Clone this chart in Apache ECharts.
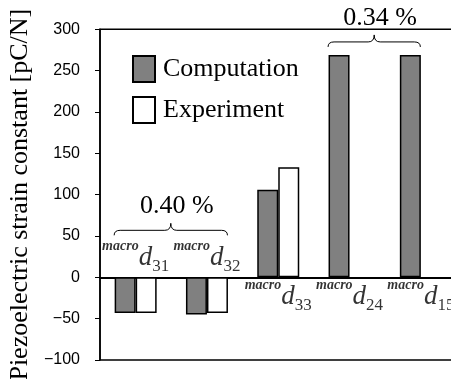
<!DOCTYPE html>
<html><head><meta charset="utf-8">
<script src="https://cdn.jsdelivr.net/npm/echarts@6/dist/echarts.min.js"></script>
<style>html,body{margin:0;padding:0;background:#fff}#c{width:451px;height:379px}</style>
</head><body><div id="c"></div>
<script>
// ---- data ----
const categories = ['macro d31', 'macro d32', 'macro d33', 'macro d24', 'macro d15'];
const subscripts = ['31', '32', '33', '24', '15'];
const computation = [-43, -45, 106, 269, 269];
const experiment = [-43, -43, 133, null, null];
const seriesNames = ['Computation', 'Experiment'];
const yTickLabels = ['-100', '-50', '0', '50', '100', '150', '200', '250', '300'];
const groupLabels = ['0.40 %', '0.34 %'];
const groupRanges = [[0, 1], [3, 4]];
const yName = 'Piezoelectric strain constant [pC/N]';

// ---- chart ----
const serif = "'Times New Roman','Liberation Serif',serif";
const sans = "Arial,'Liberation Sans',sans-serif";
const chart = echarts.init(document.getElementById('c'), null, {renderer: 'canvas'});
const BW = 21;

const labelData = categories.map((c, i) => ({
  value: [i, 0],
  label: computation[i] < 0 ? {position: 'top', distance: 2} : {position: 'bottom', distance: 1}
}));

chart.setOption({
  animation: false,
  backgroundColor: '#fff',
  grid: {left: 100, right: -5.5, top: 29.3, bottom: 19, show: true, borderColor: '#000', borderWidth: 1.5,
    backgroundColor: 'transparent', containLabel: false, outerBoundsMode: 'none'},
  legend: {
    orient: 'vertical', left: 132, top: 55, padding: 0, itemWidth: 22, itemHeight: 26, itemGap: 13,
    icon: 'rect', selectedMode: false,
    textStyle: {fontFamily: serif, fontSize: 26, color: '#000', padding: [0, 0, 0, 3]},
    data: seriesNames
  },
  xAxis: {
    type: 'category', data: categories,
    axisLine: {onZero: true, lineStyle: {color: '#000', width: 2}},
    axisTick: {show: false}, axisLabel: {show: false}, splitLine: {show: false}
  },
  yAxis: {
    type: 'value', min: -100, max: 300, interval: 50,
    name: yName, nameLocation: 'middle', nameRotate: 90, nameGap: 66,
    nameTextStyle: {fontFamily: serif, fontSize: 26, color: '#000'},
    axisLine: {show: true, lineStyle: {color: '#000', width: 1.5}},
    axisTick: {show: true, length: 5, lineStyle: {color: '#000', width: 1}},
    axisLabel: {fontFamily: sans, fontSize: 16, color: '#000', margin: 20,
      formatter: v => yTickLabels[yTickLabels.indexOf(String(v))].replace('-', '\u2212')},
    splitLine: {show: false}
  },
  series: [
    {name: seriesNames[0], type: 'bar', data: computation, barWidth: BW, barGap: '0%',
      itemStyle: {color: '#808080', borderColor: '#000', borderWidth: 1.5}},
    {name: seriesNames[1], type: 'bar', data: experiment, barWidth: BW, barGap: '0%',
      itemStyle: {color: '#fff', borderColor: '#000', borderWidth: 1.5}},
    {type: 'scatter', symbolSize: 0, silent: true, z: 5, data: labelData,
      label: {show: true, color: '#000',
        formatter: p => '{m|macro}{d|d}{s|' + subscripts[p.dataIndex] + '}',
        rich: {
          m: {fontFamily: serif, fontStyle: 'italic', fontWeight: 'bold', fontSize: 14, verticalAlign: 'bottom', padding: [0, 0, 22, 0]},
          d: {fontFamily: serif, fontStyle: 'italic', fontSize: 27, verticalAlign: 'bottom', padding: [0, 0, 4, 0]},
          s: {fontFamily: serif, fontSize: 17, verticalAlign: 'bottom'}
        }}}
  ]
});

// ---- braces with group labels (annotations) ----
function px(i, v) { return chart.convertToPixel({gridIndex: 0}, [i, v]); }
const elements = [];
const st = {stroke: '#000', lineWidth: 1, fill: null};
function seg(x1, y1, x2, y2) {
  elements.push({type: 'line', silent: true, shape: {x1, y1, x2, y2}, style: st});
}
function curve(x1, y1, cx, cy, x2, y2) {
  elements.push({type: 'bezierCurve', silent: true, shape: {x1, y1, x2, y2, cpx1: cx, cpy1: cy}, style: st});
}
groupRanges.forEach((g, k) => {
  const left = px(g[0], 0)[0] - BW / 2 - 11;
  const right = k === 0 ? px(g[1], 0)[0] + BW / 2 + 10 : px(g[1], 0)[0] - BW / 2 + 10;
  const yb = k === 0 ? px(0, 0)[1] - 42 : px(0, Math.max(...computation))[1] - 8;
  const xc = (left + right) / 2, ym = yb - 5, yc = yb - 12;
  curve(left, yb, left, ym, left + 6, ym);
  seg(left + 6, ym, xc - 6, ym);
  curve(xc - 6, ym, xc, ym, xc, yc);
  curve(xc, yc, xc, ym, xc + 6, ym);
  seg(xc + 6, ym, right - 6, ym);
  curve(right - 6, ym, right, ym, right, yb);
  elements.push({type: 'text', x: xc + 6, y: yc - 17, silent: true,
    style: {text: groupLabels[k], fontFamily: serif, fontSize: 26, fill: '#000', align: 'center', verticalAlign: 'middle'}});
});
chart.setOption({graphic: {elements}});
</script></body></html>
